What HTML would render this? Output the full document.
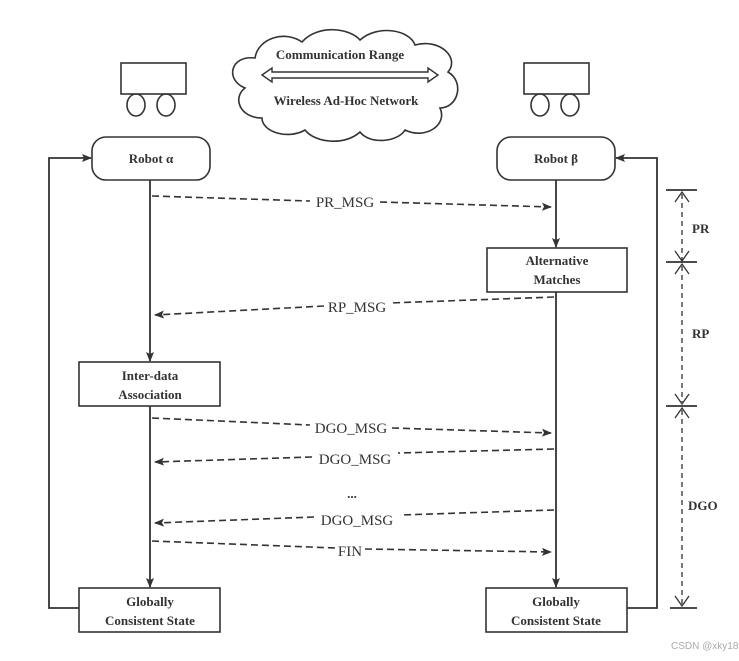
<!DOCTYPE html>
<html><head><style>
body{margin:0;background:#fff;}
svg{display:block;}
.b{font-family:"Liberation Serif",serif;font-weight:bold;font-size:13px;fill:#333;}
.m{font-family:"Liberation Serif",serif;font-size:15px;fill:#333;}
</style></head><body>
<svg width="739" height="661" viewBox="0 0 739 661" xmlns="http://www.w3.org/2000/svg">
<defs>
<marker id="a" markerWidth="10" markerHeight="8" refX="9" refY="4" orient="auto" markerUnits="userSpaceOnUse">
<path d="M0,0 L10,4 L0,8 L2,4 Z" fill="#333"/></marker>
</defs>
<rect x="0" y="0" width="739" height="661" fill="#fff"/>
<g stroke="#333" stroke-width="1.6" fill="none">
<path d="M245,88 C225,80 230,55 255,58 C258,38 285,30 302,42 C318,24 350,28 360,40 C378,24 410,30 415,45 C440,38 460,58 448,72 C465,82 458,108 440,108 C448,125 425,140 405,130 C398,142 370,145 360,132 C345,146 315,143 305,130 C288,140 262,132 262,118 C240,118 232,98 245,88 Z"/>
<rect x="121" y="63" width="65" height="31"/><ellipse cx="136" cy="105" rx="9" ry="11"/><ellipse cx="166" cy="105" rx="9" ry="11"/>
<rect x="524" y="63" width="65" height="31"/><ellipse cx="540" cy="105" rx="9" ry="11"/><ellipse cx="570" cy="105" rx="9" ry="11"/>
<rect x="92" y="137" width="118" height="43" rx="14"/>
<rect x="497" y="137" width="118" height="43" rx="14"/>
<rect x="487" y="248" width="140" height="44"/>
<rect x="79" y="362" width="141" height="44"/>
<rect x="79" y="588" width="141" height="44"/>
<rect x="486" y="588" width="141" height="44"/>
</g>
<g stroke="#333" stroke-width="1.4" fill="none">
<path d="M262,75 L272,68 L272,72 L428,72 L428,68 L438,75 L428,82 L428,78 L272,78 L272,82 Z"/>
</g>
<text class="b" x="340" y="59" text-anchor="middle">Communication Range</text>
<text class="b" x="346" y="105" text-anchor="middle">Wireless Ad-Hoc Network</text>
<text class="b" x="151" y="163" text-anchor="middle">Robot α</text>
<text class="b" x="556" y="163" text-anchor="middle">Robot β</text>
<text class="b" x="557" y="265" text-anchor="middle">Alternative</text>
<text class="b" x="557" y="284" text-anchor="middle">Matches</text>
<text class="b" x="150" y="380" text-anchor="middle">Inter-data</text>
<text class="b" x="150" y="399" text-anchor="middle">Association</text>
<text class="b" x="150" y="606" text-anchor="middle">Globally</text>
<text class="b" x="150" y="625" text-anchor="middle">Consistent State</text>
<text class="b" x="556" y="606" text-anchor="middle">Globally</text>
<text class="b" x="556" y="625" text-anchor="middle">Consistent State</text>
<g stroke="#333" stroke-width="1.8" fill="none">
<line x1="150" y1="180" x2="150" y2="361" marker-end="url(#a)"/>
<line x1="150" y1="406" x2="150" y2="587" marker-end="url(#a)"/>
<line x1="556" y1="180" x2="556" y2="247" marker-end="url(#a)"/>
<line x1="556" y1="292" x2="556" y2="587" marker-end="url(#a)"/>
<polyline points="79,608 49,608 49,158 91,158" marker-end="url(#a)"/>
<polyline points="627,608 657,608 657,158 616,158" marker-end="url(#a)"/>
</g>
<g stroke="#333" stroke-width="1.6" fill="none" stroke-dasharray="7,4">
<line x1="152" y1="196" x2="310" y2="201"/><line x1="380" y1="202" x2="551" y2="207" marker-end="url(#a)"/>
<line x1="554" y1="297" x2="390" y2="303"/><line x1="324" y1="306" x2="155" y2="315" marker-end="url(#a)"/>
<line x1="152" y1="418" x2="310" y2="425"/><line x1="392" y1="428" x2="551" y2="433" marker-end="url(#a)"/>
<line x1="554" y1="449" x2="398" y2="453"/><line x1="312" y1="457" x2="155" y2="462" marker-end="url(#a)"/>
<line x1="554" y1="510" x2="400" y2="515"/><line x1="314" y1="517" x2="155" y2="523" marker-end="url(#a)"/>
<line x1="152" y1="541" x2="336" y2="548"/><line x1="365" y1="549" x2="551" y2="552" marker-end="url(#a)"/>
</g>
<text class="m" x="345" y="207" text-anchor="middle">PR_MSG</text>
<text class="m" x="357" y="312" text-anchor="middle">RP_MSG</text>
<text class="m" x="351" y="433" text-anchor="middle">DGO_MSG</text>
<text class="m" x="355" y="464" text-anchor="middle">DGO_MSG</text>
<text class="b" x="352" y="498" text-anchor="middle">...</text>
<text class="m" x="357" y="525" text-anchor="middle">DGO_MSG</text>
<text class="m" x="350" y="556" text-anchor="middle">FIN</text>
<g stroke="#333" stroke-width="1.8">
<line x1="666" y1="190" x2="697" y2="190"/>
<line x1="666" y1="262" x2="697" y2="262"/>
<line x1="666" y1="406" x2="697" y2="406"/>
<line x1="670" y1="608" x2="697" y2="608"/>
</g>
<g stroke="#333" stroke-width="1.3" fill="none">
<path d="M675,202 L682,192 L689,202"/>
<path d="M675,251 L682,261 L689,251"/>
<path d="M675,274 L682,264 L689,274"/>
<path d="M675,394 L682,404 L689,394"/>
<path d="M675,418 L682,408 L689,418"/>
<path d="M675,596 L682,606 L689,596"/>
</g>
<g stroke="#333" stroke-width="1.3" fill="none" stroke-dasharray="5,4">
<line x1="682" y1="194" x2="682" y2="260"/>
<line x1="682" y1="266" x2="682" y2="402"/>
<line x1="682" y1="410" x2="682" y2="604"/>
</g>
<text class="b" x="692" y="233">PR</text>
<text class="b" x="692" y="338">RP</text>
<text class="b" x="688" y="510">DGO</text>
<text x="671" y="649" font-family="Liberation Sans, sans-serif" font-size="10" fill="#aaa">CSDN @xky183</text>
</svg>
</body></html>
